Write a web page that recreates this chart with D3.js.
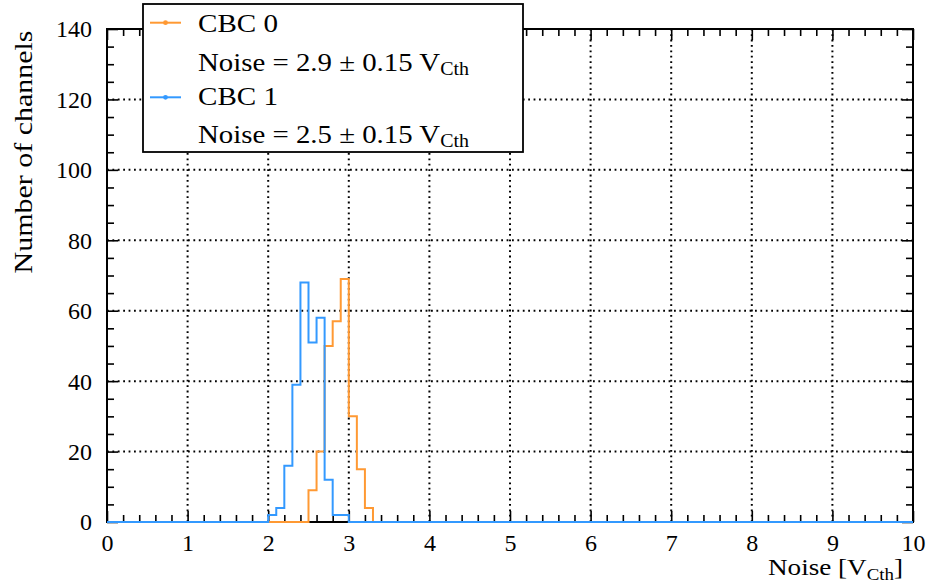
<!DOCTYPE html>
<html>
<head>
<meta charset="utf-8">
<script src="https://cdn.jsdelivr.net/npm/d3@7"></script>
<style>
  html, body { margin: 0; padding: 0; background: #fff; }
  svg { display: block; }
  text { font-family: "Liberation Serif", "Times New Roman", serif; fill: #000; }
</style>
</head>
<body>
<svg id="chart" width="930" height="587"></svg>
<script>
// ---- data ----
const binWidth = 0.1;
const xDomain = [0, 10];
const yDomain = [0, 140];
const cbc0Start = 2.5;
const cbc0Counts = [9, 20, 50, 57, 69, 30, 15, 4];
const cbc1Start = 2.0;
const cbc1Counts = [2, 4, 16, 39, 68, 51, 58, 12, 2, 2];
const xMajorTicks = [0, 1, 2, 3, 4, 5, 6, 7, 8, 9, 10];
const yMajorTicks = [0, 20, 40, 60, 80, 100, 120, 140];
const legendNames = ["CBC 0", "CBC 1"];
const legendNotes = ["Noise = 2.9 \u00B1 0.15 V", "Noise = 2.5 \u00B1 0.15 V"];
const colors = ["#ff9933", "#3399ff"];

const svg = d3.select("#chart");
const x = d3.scaleLinear(xDomain, [107, 913]);
const y = d3.scaleLinear(yDomain, [522, 29]);

const xMinor = d3.range(0, 50 + 1).map(i => i * 0.2).filter(v => Math.abs(v - Math.round(v)) > 1e-6);
const yMinor = d3.range(0, 28 + 1).map(i => i * 5).filter(v => v % 20 !== 0);

// ---- grid ----
const grid = svg.append("g");
xMajorTicks.filter(v => v > 0 && v < 10).forEach(v => {
  grid.append("line").attr("x1", x(v)).attr("x2", x(v)).attr("y1", y(0)).attr("y2", y(140))
    .attr("stroke", "#000").attr("stroke-width", 2).attr("stroke-dasharray", "1.8 3.6");
});
yMajorTicks.filter(v => v > 0 && v < 140).forEach(v => {
  grid.append("line").attr("x1", x(0)).attr("x2", x(10)).attr("y1", y(v)).attr("y2", y(v))
    .attr("stroke", "#000").attr("stroke-width", 2).attr("stroke-dasharray", "1.8 3.6");
});

// ---- axes (ticks inward on all four sides) ----
function styleAxis(g) {
  g.select(".domain").remove();
  g.selectAll("line").attr("stroke", "#000").attr("stroke-width", 1.6);
}
svg.append("g").attr("transform", `translate(0,${y(0)})`)
  .call(d3.axisBottom(x).tickValues(xMinor).tickSize(-7).tickFormat(""))
  .call(styleAxis);
svg.append("g").attr("transform", `translate(0,${y(140)})`)
  .call(d3.axisTop(x).tickValues(xMinor).tickSize(-7).tickFormat(""))
  .call(styleAxis);
svg.append("g").attr("transform", `translate(${x(0)},0)`)
  .call(d3.axisLeft(y).tickValues(yMinor).tickSize(-7).tickFormat(""))
  .call(styleAxis);
svg.append("g").attr("transform", `translate(${x(10)},0)`)
  .call(d3.axisRight(y).tickValues(yMinor).tickSize(-7).tickFormat(""))
  .call(styleAxis);

const xAx = svg.append("g").attr("transform", `translate(0,${y(0)})`)
  .call(d3.axisBottom(x).tickValues(xMajorTicks).tickSize(-11).tickPadding(12).tickFormat(d3.format("d")))
  .call(styleAxis);
xAx.selectAll("text").attr("font-size", 24).attr("font-family", "Liberation Serif").attr("dy", "0.71em");
svg.append("g").attr("transform", `translate(0,${y(140)})`)
  .call(d3.axisTop(x).tickValues(xMajorTicks).tickSize(-11).tickFormat(""))
  .call(styleAxis);
const yAx = svg.append("g").attr("transform", `translate(${x(0)},0)`)
  .call(d3.axisLeft(y).tickValues(yMajorTicks).tickSize(-11).tickPadding(15).tickFormat(d3.format("d")))
  .call(styleAxis);
yAx.selectAll("text").attr("font-size", 24).attr("font-family", "Liberation Serif").attr("dy", "0.33em");
svg.append("g").attr("transform", `translate(${x(10)},0)`)
  .call(d3.axisRight(y).tickValues(yMajorTicks).tickSize(-11).tickFormat(""))
  .call(styleAxis);

// frame
svg.append("rect").attr("x", x(0)).attr("y", y(140)).attr("width", x(10) - x(0)).attr("height", y(0) - y(140))
  .attr("fill", "none").attr("stroke", "#000").attr("stroke-width", 2);

// ---- histograms ----
function stepPoints(start, counts) {
  const pts = [[xDomain[0], 0], [start, 0]];
  counts.forEach((c, i) => pts.push([start + i * binWidth, c]));
  const end = start + counts.length * binWidth;
  pts.push([end, 0]);
  pts.push([xDomain[1], 0]);
  return pts;
}
const line = d3.line().x(d => x(d[0])).y(d => y(d[1])).curve(d3.curveStepAfter);
[[cbc0Start, cbc0Counts], [cbc1Start, cbc1Counts]].forEach((s, i) => {
  svg.append("path").attr("d", line(stepPoints(s[0], s[1])))
    .attr("fill", "none").attr("stroke", colors[i]).attr("stroke-width", 2)
    .attr("stroke-linejoin", "miter");
});

// ---- axis labels ----
svg.append("text")
  .attr("transform", "translate(31.5,152) rotate(-90)")
  .attr("text-anchor", "middle").attr("font-size", 25)
  .attr("textLength", 243).attr("lengthAdjust", "spacingAndGlyphs")
  .text("Number of channels");

const xl = svg.append("text").attr("x", 768).attr("y", 575).attr("font-size", 23)
  .attr("textLength", 135).attr("lengthAdjust", "spacingAndGlyphs");
xl.append("tspan").text("Noise [V");
xl.append("tspan").attr("font-size", 16).attr("dy", 5).text("Cth");
xl.append("tspan").attr("dy", -5).text("]");

// ---- legend ----
const leg = svg.append("g");
leg.append("rect").attr("x", 143).attr("y", 4).attr("width", 380).attr("height", 148)
  .attr("fill", "#fff").attr("stroke", "#000").attr("stroke-width", 1.8);
const symY = [22.7, 97.3];
const nameBase = [32.3, 105];
const noteBase = [70.7, 143.3];
legendNames.forEach((name, i) => {
  leg.append("line").attr("x1", 150).attr("x2", 181).attr("y1", symY[i]).attr("y2", symY[i])
    .attr("stroke", colors[i]).attr("stroke-width", 2);
  leg.append("circle").attr("cx", 165.5).attr("cy", symY[i]).attr("r", 2.4).attr("fill", colors[i]);
  leg.append("text").attr("x", 198).attr("y", nameBase[i]).attr("font-size", 26)
    .attr("textLength", 80).attr("lengthAdjust", "spacingAndGlyphs").text(name);
  const t = leg.append("text").attr("x", 198).attr("y", noteBase[i]).attr("font-size", 26)
    .attr("textLength", 271).attr("lengthAdjust", "spacingAndGlyphs");
  t.append("tspan").text(legendNotes[i]);
  t.append("tspan").attr("font-size", 18).attr("dy", 4).text("Cth");
});
</script>
</body>
</html>
